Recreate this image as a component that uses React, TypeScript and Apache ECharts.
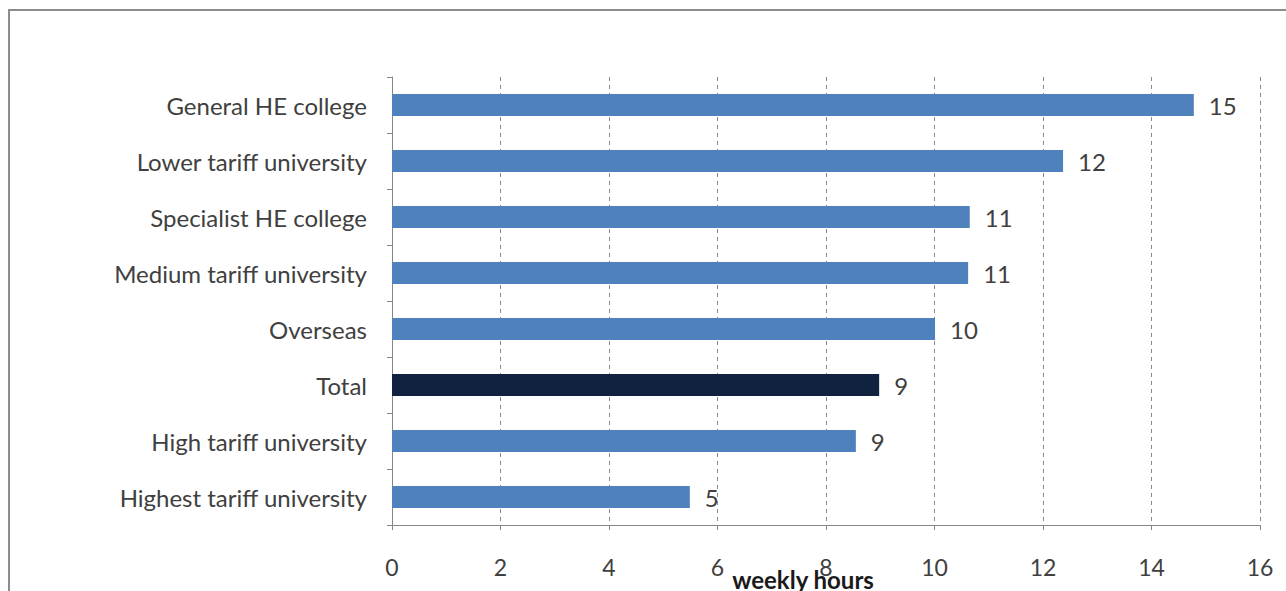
import React, { useEffect, useRef } from "react";
import * as echarts from "echarts";

const categories = [
  "General HE college",
  "Lower tariff university",
  "Specialist HE college",
  "Medium tariff university",
  "Overseas",
  "Total",
  "High tariff university",
  "Highest tariff university",
];
const values = [14.78, 12.37, 10.65, 10.62, 10.01, 8.98, 8.55, 5.49];
const highlighted = "Total";
const xTicks = { min: 0, max: 16, interval: 2 };
const axisTitle = "weekly hours";

export default function App() {
  const ref = useRef<HTMLDivElement>(null);
  useEffect(() => {
    if (!ref.current) return;
    const chart = echarts.init(ref.current, undefined, { renderer: "svg" });
    const font = "Lato, 'Open Sans', sans-serif";
    chart.setOption({
      animation: false,
      backgroundColor: "#ffffff",
      graphic: [
        {
          type: "rect",
          shape: { x: 9, y: 10, width: 1300, height: 600 },
          style: { fill: "none", stroke: "#8c8c8c", lineWidth: 2 },
          silent: true,
        },
      ],
      grid: {
        left: 392,
        right: 26,
        top: 77,
        height: 448,
        containLabel: false,
        outerBoundsMode: "none",
      },
      xAxis: {
        type: "value",
        min: xTicks.min,
        max: xTicks.max,
        interval: xTicks.interval,
        name: axisTitle,
        nameLocation: "middle",
        nameGap: 42,
        nameMoveOverlap: false,
        nameTextStyle: { fontFamily: font, fontSize: 24, fontWeight: "bold", color: "#1a1a1a", padding: [0, 46, 0, 0] },
        axisLine: { show: true, lineStyle: { color: "#868686", width: 1 } },
        axisTick: { show: true, length: 5, lineStyle: { color: "#868686" } },
        axisLabel: { fontFamily: font, fontSize: 23, color: "#404040", margin: 30 },
        splitLine: { show: true, lineStyle: { color: "#8a8a8a", type: [4, 4], width: 1 } },
      },
      yAxis: {
        type: "category",
        data: categories,
        inverse: true,
        axisLine: { show: true, lineStyle: { color: "#868686", width: 1 } },
        axisTick: { show: true, length: 5, lineStyle: { color: "#868686" } },
        axisLabel: { fontFamily: font, fontSize: 24, color: "#404040", margin: 25 },
        splitLine: { show: false },
      },
      series: [
        {
          type: "bar",
          barWidth: 22,
          data: values.map((v, i) => ({
            value: v,
            itemStyle: { color: categories[i] === highlighted ? "#10223f" : "#4f81bd" },
          })),
          label: {
            show: true,
            position: "right",
            distance: 15,
            fontFamily: font,
            fontSize: 24,
            color: "#404040",
            formatter: (p: any) => String(Math.round(p.value)),
          },
        },
      ],
    });
    return () => chart.dispose();
  }, []);
  return (
    <div
      ref={ref}
      style={{ position: "fixed", left: 0, top: 0, width: 1286, height: 591 }}
    />
  );
}
